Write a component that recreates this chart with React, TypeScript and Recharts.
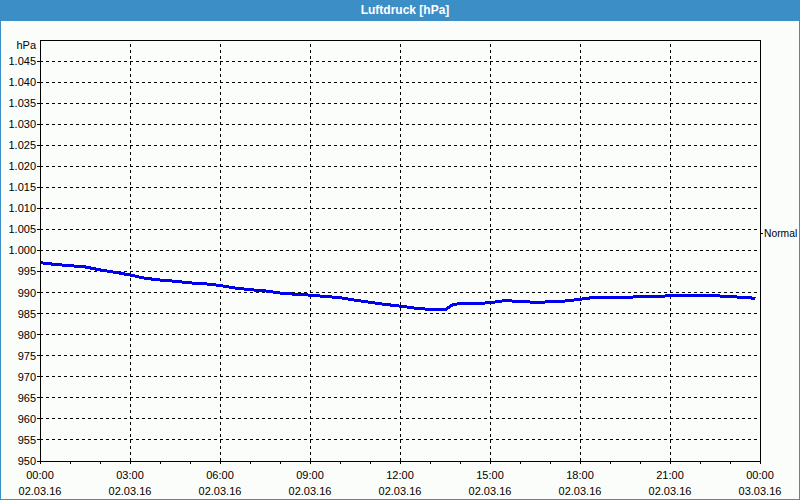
import React from "react";
import { LineChart, Line, XAxis, YAxis, CartesianGrid, ReferenceLine } from "recharts";

const hours = [0, 0.5, 1, 1.5, 2, 2.5, 3, 3.5, 4, 4.5, 5, 5.5, 6, 6.5, 7, 7.5, 8, 8.5, 9, 9.5, 10, 10.5, 11, 11.5, 12, 12.5, 13, 13.5, 13.75, 14, 14.5, 15, 15.5, 16, 16.5, 17, 17.5, 18, 18.5, 19, 19.5, 20, 20.5, 21, 21.5, 22, 22.5, 23, 23.5, 23.85];
const pressure = [997.1, 996.7, 996.4, 996.1, 995.4, 994.8, 994.2, 993.4, 993.0, 992.7, 992.3, 992.1, 991.7, 991.1, 990.7, 990.4, 989.9, 989.6, 989.4, 989.1, 988.8, 988.2, 987.7, 987.2, 986.8, 986.3, 986.0, 985.9, 987.1, 987.4, 987.4, 987.6, 988.1, 987.9, 987.7, 987.8, 988.0, 988.4, 988.9, 988.9, 988.9, 989.0, 989.0, 989.3, 989.3, 989.3, 989.3, 989.0, 988.9, 988.6];

const yTicks = [950, 955, 960, 965, 970, 975, 980, 985, 990, 995, 1000, 1005, 1010, 1015, 1020, 1025, 1030, 1035, 1040, 1045, 1050];
const gridYTicks = [955, 960, 965, 970, 975, 980, 985, 990, 995, 1000, 1005, 1010, 1015, 1020, 1025, 1030, 1035, 1040, 1045];
const xTicks = [0, 1, 2, 3, 4, 5, 6, 7, 8, 9, 10, 11, 12, 13, 14, 15, 16, 17, 18, 19, 20, 21, 22, 23, 24];
const gridHours = [3, 6, 9, 12, 15, 18, 21];
const timeLabels: Record<number, [string, string]> = {
  0: ["00:00", "02.03.16"],
  3: ["03:00", "02.03.16"],
  6: ["06:00", "02.03.16"],
  9: ["09:00", "02.03.16"],
  12: ["12:00", "02.03.16"],
  15: ["15:00", "02.03.16"],
  18: ["18:00", "02.03.16"],
  21: ["21:00", "02.03.16"],
  24: ["00:00", "03.03.16"],
};
const normalValue = 1004;
const normalLabel = "Normal";
const title = "Luftdruck [hPa]";
const unitLabel = "hPa";

const data = hours.map((h, i) => ({ h, p: pressure[i] }));

const FONT = "'Liberation Sans', Arial, sans-serif";
const BLUE = "#3c8fc6";

function fmtY(v: number): string {
  if (v >= 1000) {
    const s = String(v);
    return s.slice(0, 1) + "." + s.slice(1);
  }
  return String(v);
}

const LeftTick = (props: any) => {
  const { x, y, payload } = props;
  const v = payload.value;
  const axisX = x + 4;
  if (v === 1050) {
    return (
      <text x={x} y={y + 6} textAnchor="end" dominantBaseline="middle" fontSize={11} fontFamily={FONT} fill="#000">
        {unitLabel}
      </text>
    );
  }
  return (
    <g>
      <line x1={axisX - 3} x2={axisX} y1={y} y2={y} stroke="#000" />
      <text x={x} y={y + 1} textAnchor="end" dominantBaseline="middle" fontSize={11} fontFamily={FONT} fill="#000">
        {fmtY(v)}
      </text>
    </g>
  );
};

const NormalLabel = (props: any) => {
  const vb = props.viewBox || {};
  const axisX = vb.x + vb.width;
  const y = vb.y;
  return (
    <g>
      <line x1={axisX} x2={axisX + 3} y1={y} y2={y} stroke="#000" />
      <text x={axisX + 4} y={y + 1} textAnchor="start" dominantBaseline="middle" fontSize={10.3} fontFamily={FONT} fill="#000">
        {normalLabel}
      </text>
    </g>
  );
};

const BottomTick = (props: any) => {
  const { x, y, payload } = props;
  const v = payload.value;
  const axisY = y - 4;
  const lbl = timeLabels[v];
  return (
    <g>
      <line x1={x} x2={x} y1={axisY} y2={axisY + 3} stroke="#000" />
      {lbl && (
        <text textAnchor="middle" fontSize={11} fontFamily={FONT} fill="#000">
          <tspan x={x} y={axisY + 18}>{lbl[0]}</tspan>
          <tspan x={x} y={axisY + 34}>{lbl[1]}</tspan>
        </text>
      )}
    </g>
  );
};

export default function App() {
  return (
    <div style={{ position: "absolute", left: 0, top: 0, width: 800, height: 500, background: "#fafdfa", overflow: "hidden" }}>
      <div style={{ position: "absolute", left: -1, top: 0 }}>
        <LineChart width={800} height={500} data={data} margin={{ top: 40, right: 39, left: 0, bottom: 0 }} style={{ shapeRendering: "crispEdges" }}>
          <CartesianGrid vertical={false} horizontalValues={gridYTicks} stroke="#000" strokeDasharray="3 3" />
          <XAxis
            dataKey="h"
            type="number"
            domain={[0, 24]}
            ticks={xTicks}
            interval={0}
            height={39}
            tickSize={3}
            tickMargin={1}
            tickLine={false}
            axisLine={{ stroke: "#000" }}
            tick={<BottomTick />}
          />
          <YAxis
            type="number"
            domain={[950, 1050]}
            ticks={yTicks}
            interval={0}
            width={41}
            tickSize={3}
            tickMargin={1}
            tickLine={false}
            axisLine={{ stroke: "#000" }}
            tick={<LeftTick />}
          />
          {gridHours.map((g) => (
            <ReferenceLine key={g} x={g} stroke="#000" strokeDasharray="3 3" />
          ))}
          <ReferenceLine y={1050} stroke="#000" />
          <ReferenceLine x={24} stroke="#000" />
          <ReferenceLine y={normalValue} stroke="none" label={<NormalLabel />} />
          <Line
            dataKey="p"
            type="linear"
            stroke="#0000f0"
            strokeWidth={3}
            dot={false}
            isAnimationActive={false}
          />
        </LineChart>
      </div>
      <div style={{ position: "absolute", left: 0, top: 0, width: 800, height: 500, boxSizing: "border-box", borderLeft: `1px solid ${BLUE}`, borderRight: `1px solid ${BLUE}`, borderBottom: `1px solid ${BLUE}`, pointerEvents: "none" }} />
      <div style={{ position: "absolute", left: 0, top: 0, width: 800, height: 21, background: BLUE, color: "#fff", fontFamily: FONT, fontWeight: "bold", fontSize: 12, lineHeight: "21px", textAlign: "center" }}>
        <span style={{ marginLeft: 10 }}>{title}</span>
      </div>
    </div>
  );
}
